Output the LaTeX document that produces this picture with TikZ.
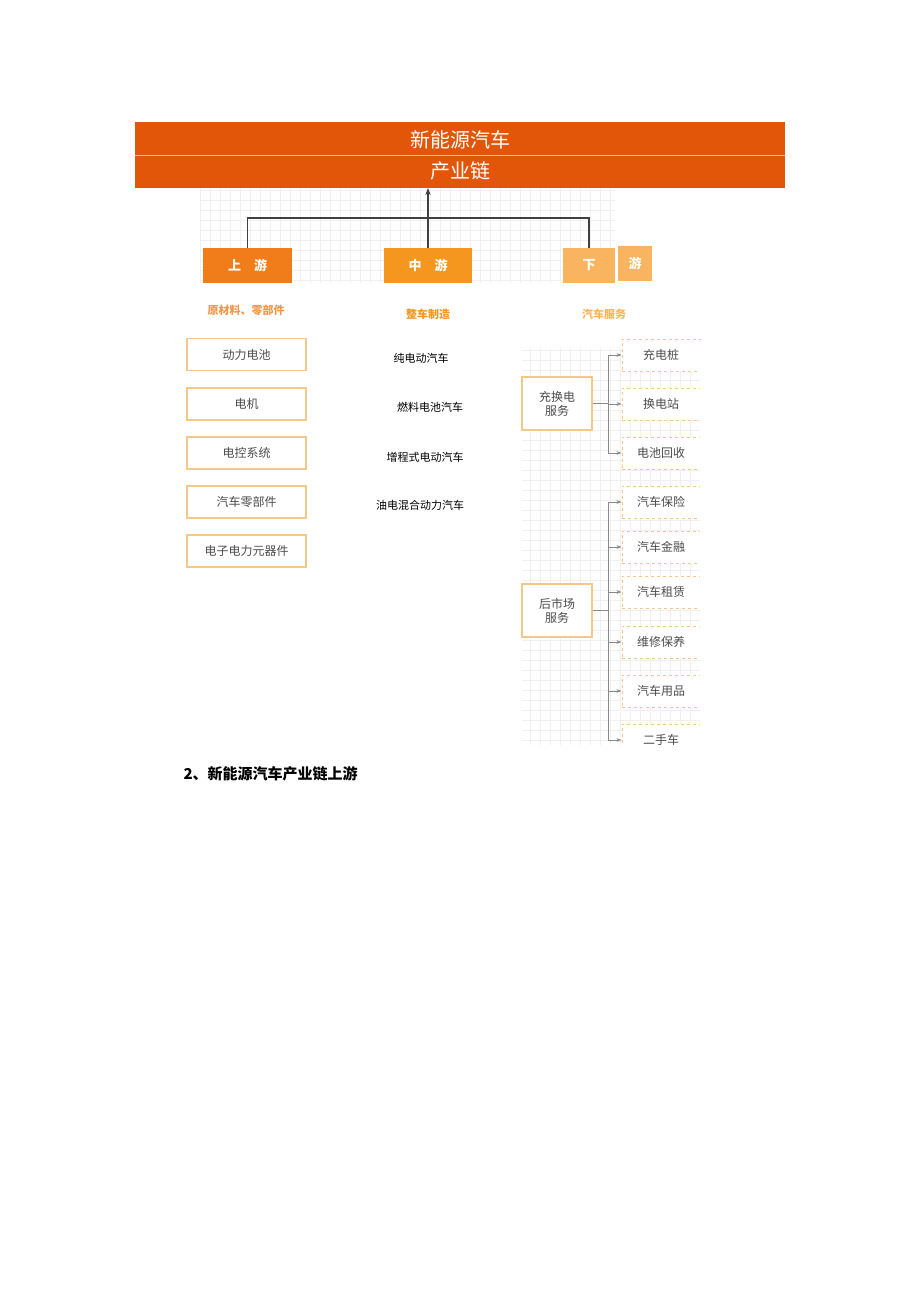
\documentclass[tikz,border=0pt]{standalone}
\usepackage{fontspec}
\setmainfont{Noto Sans CJK SC}
\usetikzlibrary{positioning,arrows.meta}
\definecolor{barColor}{HTML}{E2560A}
\definecolor{upColor}{HTML}{F07C1A}
\definecolor{midColor}{HTML}{F5961F}
\definecolor{downColor}{HTML}{F8B45E}
\definecolor{frameColor}{HTML}{F5C888}
\definecolor{lineColor}{HTML}{8A8A8A}
\tikzset{
  stagebox/.style={fill=#1,text=white,font=\bfseries\fontsize{13}{13}\selectfont,minimum height=35pt,inner sep=0pt},
  partbox/.style={draw=frameColor,line width=1.2pt,fill=white,minimum width=119pt,minimum height=32pt,text=black!70,font=\fontsize{12}{12}\selectfont},
  groupbox/.style={draw=frameColor,line width=1.2pt,fill=white,minimum width=70pt,minimum height=53pt,text=black!70,align=center,font=\fontsize{12}{14}\selectfont},
  servbox/.style={draw=frameColor,dashed,line width=1pt,fill=white,minimum width=78pt,minimum height=32pt,text=black!70,font=\fontsize{12}{12}\selectfont},
  carlabel/.style={text=black,font=\fontsize{11}{11}\selectfont},
  headlabel/.style={font=\bfseries\fontsize{11}{11}\selectfont},
  link/.style={lineColor,line width=1pt,-{Stealth[length=5pt]}},
}
\begin{document}
\begin{tikzpicture}[x=1pt,y=-1pt]
  \useasboundingbox (0,0) rectangle (920,1301);
  % faint grids
  \draw[black!6,step=10pt] (200,188) grid (615,283);
  \draw[black!6,step=10pt] (522,348) grid (700,745);
  % title bar
  \fill[barColor] (135,122) rectangle (785,188);
  \draw[white!60!barColor,line width=0.6pt] (135,155) -- (785,155);
  \node[text=white,font=\fontsize{20}{20}\selectfont] (title1) at (460,140) {新能源汽车};
  \node[text=white,font=\fontsize{20}{20}\selectfont] (title2) at (460,171) {产业链};
  \coordinate (top) at (428,188);
  % stages
  \node[stagebox=upColor,minimum width=89pt] (up) at (247.5,265.5) {上\quad 游};
  \node[stagebox=midColor,minimum width=88pt] (mid) at (428,265.5) {中\quad 游};
  \node[stagebox=downColor,minimum width=52pt] (down) at (589,265.5) {下};
  \node[stagebox=downColor,minimum width=34pt] (down2) at (635,263.5) {游};
  \draw[black!75,line width=1.4pt] (up.north) |- (428,218) -| (down.north);
  \draw[black!75,line width=1.4pt,-{Stealth[length=7pt]}] (mid.north) -- (top);
  % headings
  \node[headlabel,text=upColor!80!white] (hUp) at (246,310) {原材料、零部件};
  \node[headlabel,text=midColor] (hMid) at (428,314) {整车制造};
  \node[headlabel,text=downColor] (hDown) at (604,314) {汽车服务};
  % upstream parts
  \node[partbox] (p1) at (246.5,354.5) {动力电池};
  \node[partbox] (p2) at (246.5,404) {电机};
  \node[partbox] (p3) at (246.5,453) {电控系统};
  \node[partbox] (p4) at (246.5,502) {汽车零部件};
  \node[partbox] (p5) at (246.5,551) {电子电力元器件};
  % vehicles
  \node[carlabel] (c1) at (421,358) {纯电动汽车};
  \node[carlabel] (c2) at (430,407) {燃料电池汽车};
  \node[carlabel] (c3) at (425,457) {增程式电动汽车};
  \node[carlabel] (c4) at (420,505) {油电混合动力汽车};
  % downstream services
  \node[groupbox] (charge) at (557,403.5) {充换电\\服务};
  \node[servbox] (s1) at (661,355) {充电桩};
  \node[servbox] (s2) at (661,404) {换电站};
  \node[servbox] (s3) at (661,453) {电池回收};
  \foreach \s in {s1,s2,s3}
    \draw[link] (charge.east) -- ++(16,0) |- (\s.west);
  \node[groupbox] (after) at (557,610.5) {后市场\\服务};
  \node[servbox] (a1) at (661,502) {汽车保险};
  \node[servbox] (a2) at (661,547) {汽车金融};
  \node[servbox] (a3) at (661,592) {汽车租赁};
  \node[servbox] (a4) at (661,642) {维修保养};
  \node[servbox] (a5) at (661,691) {汽车用品};
  \node[servbox] (a6) at (661,740) {二手车};
  \foreach \s in {a1,a2,a3,a4,a5,a6}
    \draw[link] (after.east) -- ++(16,0) |- (\s.west);
  % cut at right edge of the picture
  \fill[white] (700,340) rectangle (800,760);
  \fill[white] (600,745) rectangle (720,760);
  % caption
  \node[anchor=west,font=\bfseries\fontsize{15}{15}\selectfont] (caption) at (180,774) {2、新能源汽车产业链上游};
\end{tikzpicture}
\end{document}
